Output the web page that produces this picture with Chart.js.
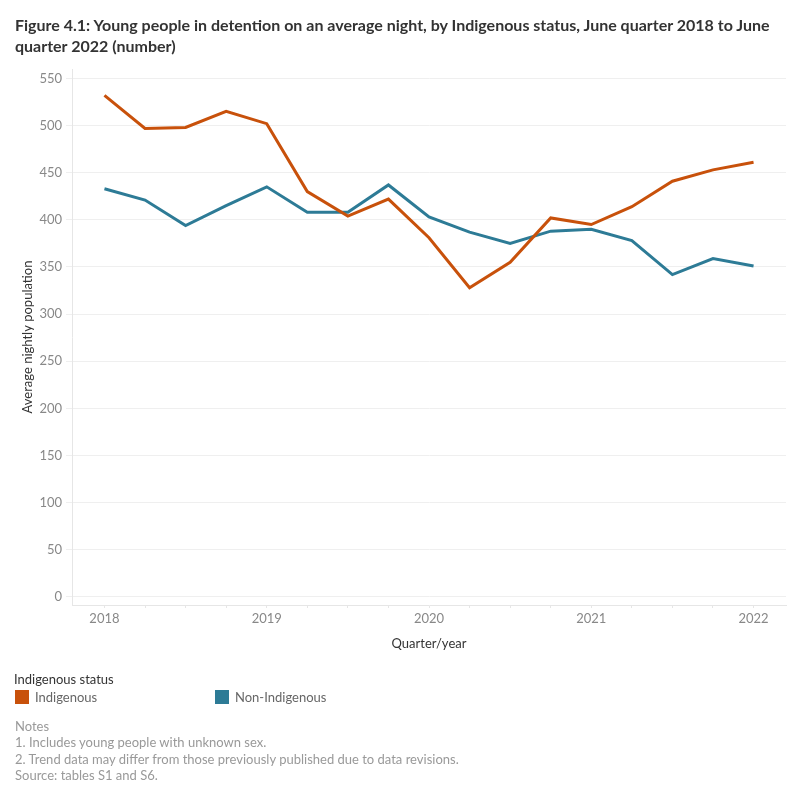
<!DOCTYPE html>
<html>
<head>
<meta charset="utf-8">
<script src="https://cdn.jsdelivr.net/npm/chart.js@4"></script>
<style>
  html, body { margin: 0; padding: 0; background: #fff; }
  #wrap { position: relative; width: 800px; height: 800px; font-family: Lato, "Open Sans", sans-serif; }
  #chart { position: absolute; left: 0; top: 0; }
  .title { position: absolute; left: 15px; top: 14px; width: 770px; font-size: 16px; font-weight: bold; color: #333; line-height: 21px; }
  .legTitle { position: absolute; left: 14px; top: 671px; font-size: 13px; color: #333; }
  .leg { position: absolute; top: 689px; font-size: 13px; color: #666; display: flex; align-items: center; }
  .leg i { display: inline-block; width: 14px; height: 14px; margin-right: 6px; }
  .notes { position: absolute; left: 15px; top: 718px; font-size: 13px; color: #999; line-height: 16.4px; }
</style>
</head>
<body>
<div id="wrap">
  <canvas id="chart" width="800" height="800"></canvas>
  <div class="title">Figure 4.1: Young people in detention on an average night, by Indigenous status, June quarter 2018 to June quarter 2022 (number)</div>
  <div class="legTitle">Indigenous status</div>
  <div class="leg" style="left:15px"><i style="background:#c8510b"></i>Indigenous</div>
  <div class="leg" style="left:215px"><i style="background:#2d7b96"></i>Non-Indigenous</div>
  <div class="notes">Notes<br>1. Includes young people with unknown sex.<br>2. Trend data may differ from those previously published due to data revisions.<br>Source: tables S1 and S6.</div>
</div>
<script>
// June quarter 2018 .. June quarter 2022
const quarters = ['Jun 2018','Sep 2018','Dec 2018','Mar 2019','Jun 2019','Sep 2019','Dec 2019','Mar 2020','Jun 2020','Sep 2020','Dec 2020','Mar 2021','Jun 2021','Sep 2021','Dec 2021','Mar 2022','Jun 2022'];
const indigenous = [532, 497, 498, 515, 502, 430, 404, 422, 381, 328, 355, 402, 395, 414, 441, 453, 461];
const nonIndigenous = [433, 421, 394, 415, 435, 408, 408, 437, 403, 387, 375, 388, 390, 378, 342, 359, 351];
const yearTicks = ['2018', '2019', '2020', '2021', '2022'];
const yTicks = [0, 50, 100, 150, 200, 250, 300, 350, 400, 450, 500, 550];

const tickFont = { family: 'Lato, "Open Sans", sans-serif', size: 13 };
const toPoints = arr => arr.map((v, i) => ({ x: i, y: v }));

new Chart(document.getElementById('chart').getContext('2d'), {
  type: 'line',
  data: {
    datasets: [
      { label: 'Indigenous', data: toPoints(indigenous), borderColor: '#c8510b', borderWidth: 3, pointRadius: 0, tension: 0 },
      { label: 'Non-Indigenous', data: toPoints(nonIndigenous), borderColor: '#2d7b96', borderWidth: 3, pointRadius: 0, tension: 0 },
    ]
  },
  options: {
    responsive: false,
    animation: false,
    layout: { padding: { left: 0, top: 69, right: 14, bottom: 140 } },
    plugins: { legend: { display: false }, tooltip: { enabled: false } },
    scales: {
      x: {
        type: 'linear', min: -0.8, max: quarters.length - 1 + 0.8,
        afterBuildTicks: s => { s.ticks = quarters.map((q, i) => ({ value: i })); },
        afterFit: s => { s.height = 55; },
        ticks: { callback: v => (v % 4 === 0 ? yearTicks[v / 4] : ''), color: '#888', font: tickFont, padding: 3, maxRotation: 0, autoSkip: false },
        grid: { drawOnChartArea: false, color: '#e6e6e6', tickLength: 3 },
        border: { color: '#e6e6e6' },
        title: { display: true, text: 'Quarter/year', color: '#333', font: tickFont, padding: { bottom: 8 } }
      },
      y: {
        min: -8.5, max: 560,
        afterBuildTicks: s => { s.ticks = yTicks.map(v => ({ value: v })); },
        afterFit: s => { s.width = 72; },
        ticks: { color: '#888', font: tickFont, padding: 4 },
        grid: { color: '#efefef', tickLength: 6 },
        border: { color: '#e6e6e6' },
        title: { display: true, text: 'Average nightly population', color: '#333', font: tickFont, padding: { top: 20 } }
      }
    }
  }
});
</script>
</body>
</html>
